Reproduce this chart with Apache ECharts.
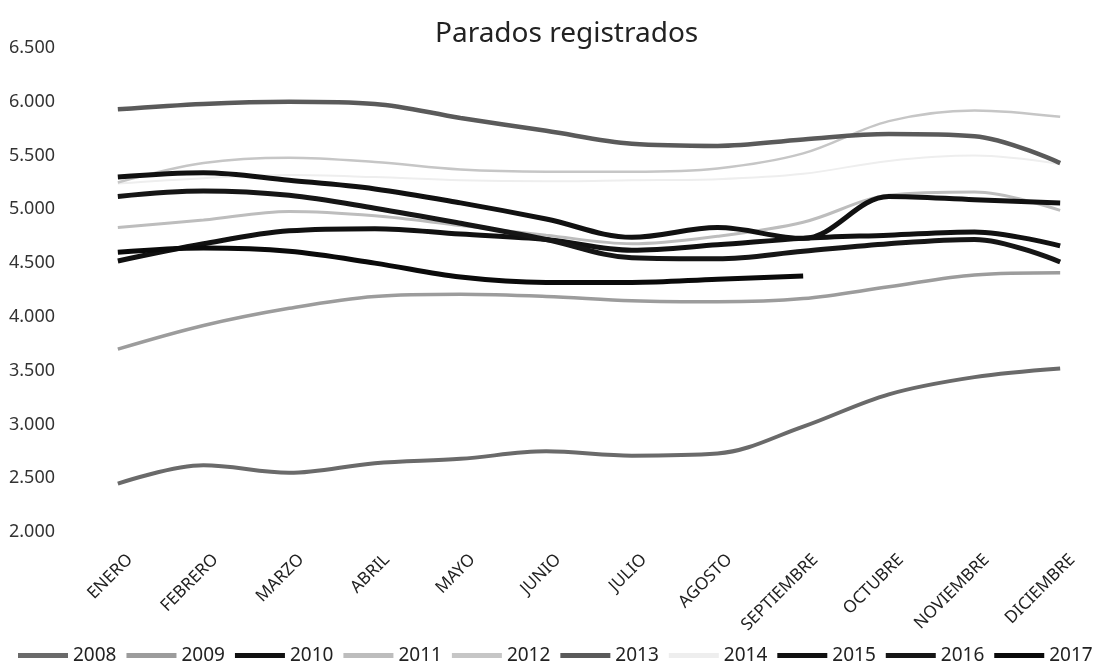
<!DOCTYPE html>
<html>
<head>
<meta charset="utf-8">
<script src="https://cdn.jsdelivr.net/npm/echarts@6/dist/echarts.min.js"></script>
<style>
  html, body { margin: 0; padding: 0; background: #fff; }
  #chart { width: 1112px; height: 666px; }
</style>
</head>
<body>
<div id="chart"></div>
<script>
// --- DATOS ---
const months = ["ENERO", "FEBRERO", "MARZO", "ABRIL", "MAYO", "JUNIO", "JULIO",
  "AGOSTO", "SEPTIEMBRE", "OCTUBRE", "NOVIEMBRE", "DICIEMBRE"];
const years = ["2008", "2009", "2010", "2011", "2012", "2013", "2014", "2015", "2016", "2017"];

const y2008 = [2450, 2620, 2550, 2640, 2680, 2750, 2710, 2730, 2980, 3280, 3440, 3520];
const y2009 = [3700, 3920, 4080, 4190, 4210, 4190, 4150, 4140, 4170, 4280, 4390, 4410];
const y2010 = [4520, 4680, 4800, 4820, 4770, 4720, 4620, 4670, 4730, 4760, 4790, 4660];
const y2011 = [4830, 4900, 4980, 4940, 4850, 4760, 4680, 4750, 4880, 5130, 5160, 4990];
const y2012 = [5250, 5430, 5480, 5440, 5370, 5350, 5350, 5380, 5520, 5820, 5920, 5860];
const y2013 = [5930, 5980, 6000, 5980, 5850, 5730, 5610, 5590, 5650, 5700, 5680, 5430];
const y2014 = [5240, 5290, 5320, 5300, 5270, 5260, 5270, 5280, 5330, 5450, 5500, 5420];
const y2015 = [5300, 5340, 5270, 5190, 5060, 4910, 4740, 4830, 4730, 5120, 5090, 5060];
const y2016 = [5120, 5170, 5130, 5010, 4870, 4720, 4550, 4540, 4610, 4680, 4720, 4510];
const y2017 = [4600, 4640, 4610, 4500, 4370, 4320, 4320, 4350, 4380];

const yTicks = [2000, 2500, 3000, 3500, 4000, 4500, 5000, 5500, 6000, 6500];

// estilo de cada año (escaneado en blanco y negro -> grises)
const styles = {
  "2008": { color: "#6a6a6a", width: 4 },
  "2009": { color: "#9c9c9c", width: 3.5 },
  "2010": { color: "#111111", width: 5 },
  "2011": { color: "#bdbdbd", width: 3 },
  "2012": { color: "#c6c6c6", width: 2.5 },
  "2013": { color: "#5a5a5a", width: 4.5 },
  "2014": { color: "#eeeeee", width: 2 },
  "2015": { color: "#111111", width: 5 },
  "2016": { color: "#161616", width: 5 },
  "2017": { color: "#0a0a0a", width: 5 },
};
const values = [y2008, y2009, y2010, y2011, y2012, y2013, y2014, y2015, y2016, y2017];

function fmt(v) {
  return String(v).replace(/\B(?=(\d{3})+(?!\d))/g, ".");
}

const chart = echarts.init(document.getElementById("chart"), null, { renderer: "canvas" });

chart.setOption({
  animation: false,
  backgroundColor: "#ffffff",
  textStyle: { fontFamily: "Noto Sans" },
  title: {
    text: "Parados registrados",
    left: 430,
    top: 15,
    textStyle: { fontFamily: "Noto Sans", fontSize: 28, fontWeight: "normal", color: "#222" },
  },
  legend: {
    top: 646,
    left: 18,
    width: 1094,
    padding: 0,
    icon: "rect",
    itemWidth: 50,
    itemHeight: 5,
    itemGap: 10,
    data: years,
    textStyle: { fontFamily: "Noto Sans", fontSize: 19, color: "#222" },
  },
  grid: { left: 75, right: 9, top: 48, bottom: 134 },
  xAxis: {
    type: "category",
    data: months,
    boundaryGap: true,
    axisLine: { show: false },
    axisTick: { show: false },
    axisLabel: {
      rotate: 45,
      margin: 13,
      verticalAlign: "top",
      lineHeight: 34,
      interval: 0,
      fontFamily: "Noto Sans",
      fontSize: 17,
      color: "#222",
    },
  },
  yAxis: {
    type: "value",
    min: yTicks[0],
    max: yTicks[yTicks.length - 1],
    interval: 500,
    axisLine: { show: false },
    axisTick: { show: false },
    splitLine: { show: false },
    axisLabel: {
      margin: 20,
      fontFamily: "Noto Sans",
      fontSize: 18,
      color: "#333",
      formatter: (v) => fmt(v),
    },
  },
  series: years.map((y, i) => ({
    name: y,
    type: "line",
    smooth: 0.35,
    symbol: "none",
    data: values[i],
    itemStyle: { color: styles[y].color },
    lineStyle: { color: styles[y].color, width: styles[y].width },
    z: y === "2014" ? 1 : 2,
  })),
});
</script>
</body>
</html>
